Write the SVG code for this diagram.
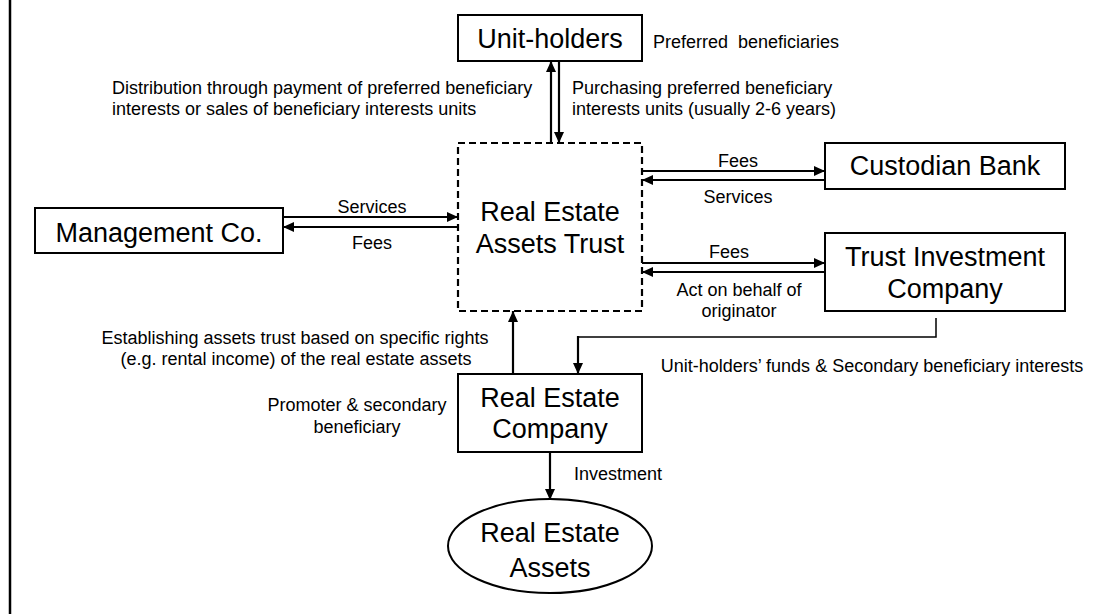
<svg xmlns="http://www.w3.org/2000/svg" width="1103" height="614" viewBox="0 0 1103 614">
<defs>
<marker id="ah" markerUnits="userSpaceOnUse" markerWidth="12" markerHeight="10" refX="11" refY="5" orient="auto">
<path d="M0,0 L11,5 L0,10 Z" fill="#000"/>
</marker>
<style>
.box{fill:#fff;stroke:#000;stroke-width:2}
.dash{fill:none;stroke:#000;stroke-width:2.2;stroke-dasharray:7,4}
.big{font-family:"Liberation Sans",Arial,sans-serif;font-size:27px;fill:#000;text-anchor:middle}
.sm{font-family:"Liberation Sans",Arial,sans-serif;font-size:18px;fill:#000}
.mid{text-anchor:middle}
.c{fill:none;stroke:#000;stroke-width:2.2}
.c1{fill:none;stroke:#000;stroke-width:1.5}
</style>
</defs>
<rect width="1103" height="614" fill="#fff"/>
<line x1="10" y1="0" x2="10" y2="614" stroke="#000" stroke-width="2.5"/>

<g id="connectors">
<line class="c" x1="551" y1="143" x2="551" y2="61" marker-end="url(#ah)"/>
<line class="c" x1="559" y1="61" x2="559" y2="143" marker-end="url(#ah)"/>
<line class="c" x1="283" y1="217" x2="458" y2="217" marker-end="url(#ah)"/>
<line class="c" x1="458" y1="227" x2="283" y2="227" marker-end="url(#ah)"/>
<line class="c" x1="642" y1="171" x2="825" y2="171" marker-end="url(#ah)"/>
<line class="c" x1="825" y1="180" x2="642" y2="180" marker-end="url(#ah)"/>
<line class="c" x1="642" y1="263" x2="825" y2="263" marker-end="url(#ah)"/>
<line class="c" x1="825" y1="272" x2="642" y2="272" marker-end="url(#ah)"/>
<line class="c" x1="513" y1="374" x2="513" y2="311" marker-end="url(#ah)"/>
<polyline class="c1" points="936,318 936,337 578,337"/>
<line class="c" x1="578" y1="336" x2="578" y2="374" marker-end="url(#ah)"/>
<line class="c" x1="550" y1="452" x2="550" y2="500" marker-end="url(#ah)"/>
</g>

<g id="unit-holders">
<rect class="box" x="458" y="15" width="184" height="46"/>
<text class="big" x="550" y="48">Unit-holders</text>
</g>
<g id="trust">
<rect class="dash" x="458" y="143" width="184" height="168"/>
<text class="big" x="550" y="221">Real Estate</text>
<text class="big" x="550" y="253">Assets Trust</text>
</g>
<g id="custodian">
<rect class="box" x="825" y="143" width="240" height="46"/>
<text class="big" x="945" y="175">Custodian Bank</text>
</g>
<g id="trust-investment">
<rect class="box" x="825" y="233" width="240" height="78"/>
<text class="big" x="945" y="266">Trust Investment</text>
<text class="big" x="945" y="298">Company</text>
</g>
<g id="management">
<rect class="box" x="35" y="208" width="248" height="45"/>
<text class="big" x="159" y="242">Management Co.</text>
</g>
<g id="re-company">
<rect class="box" x="458" y="374" width="184" height="78"/>
<text class="big" x="550" y="407">Real Estate</text>
<text class="big" x="550" y="438">Company</text>
</g>
<g id="re-assets">
<ellipse class="box" cx="550" cy="546" rx="102" ry="47" stroke-width="1.5"/>
<text class="big" x="550" y="542">Real Estate</text>
<text class="big" x="550" y="577">Assets</text>
</g>

<g id="labels">
<text class="sm" x="653" y="48" style="white-space:pre">Preferred  beneficiaries</text>
<text class="sm" x="112" y="94">Distribution through payment of preferred beneficiary</text>
<text class="sm" x="112" y="115">interests or sales of beneficiary interests units</text>
<text class="sm" x="572" y="94">Purchasing preferred beneficiary</text>
<text class="sm" x="572" y="115">interests units (usually 2-6 years)</text>
<text class="sm mid" x="372" y="213">Services</text>
<text class="sm mid" x="372" y="249">Fees</text>
<text class="sm mid" x="738" y="167">Fees</text>
<text class="sm mid" x="738" y="203">Services</text>
<text class="sm mid" x="729" y="258">Fees</text>
<text class="sm mid" x="739" y="296">Act on behalf of</text>
<text class="sm mid" x="739" y="317">originator</text>
<text class="sm mid" x="295" y="344">Establishing assets trust based on specific rights</text>
<text class="sm mid" x="296" y="365">(e.g. rental income) of the real estate assets</text>
<text class="sm mid" x="872" y="372">Unit-holders’ funds &amp; Secondary beneficiary interests</text>
<text class="sm mid" x="357" y="411">Promoter &amp; secondary</text>
<text class="sm mid" x="357" y="433">beneficiary</text>
<text class="sm" x="574" y="480">Investment</text>
</g>
</svg>
